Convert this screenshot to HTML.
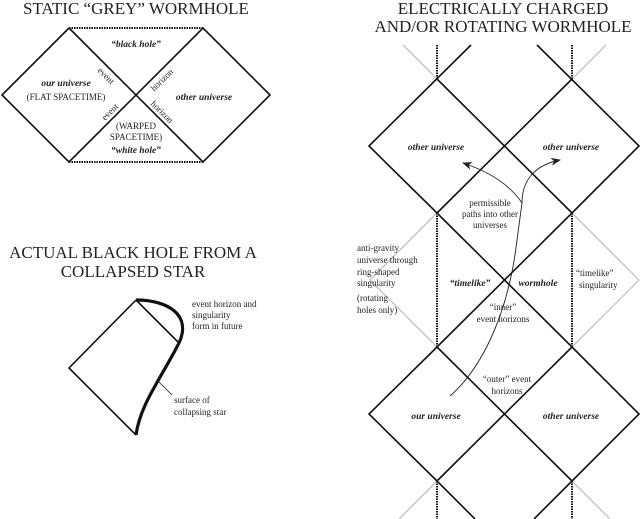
<!DOCTYPE html>
<html><head><meta charset="utf-8"><style>
html,body{margin:0;padding:0;background:#fff}
svg{display:block}
text{font-family:"Liberation Serif","DejaVu Serif",serif;fill:#222}
.t{font-size:17px}
.b{font-size:9.5px;font-weight:bold;font-style:italic}
.n{font-size:9px}
</style></head><body>
<svg width="640" height="519" viewBox="0 0 640 519" xmlns="http://www.w3.org/2000/svg" font-family="Liberation Serif, serif">
<defs><marker id="ar" markerWidth="10" markerHeight="8" refX="9" refY="4" orient="auto" markerUnits="userSpaceOnUse"><path d="M0,0 L10,4 L0,8 L3,4 Z" fill="#222"/></marker></defs>
<!-- titles -->
<text class="t" font-family="Liberation Serif, serif" x="136" y="14" text-anchor="middle">STATIC “GREY” WORMHOLE</text>
<text class="t" font-family="Liberation Serif, serif" x="503" y="14" text-anchor="middle">ELECTRICALLY CHARGED</text>
<text class="t" font-family="Liberation Serif, serif" x="503" y="32" text-anchor="middle">AND/OR ROTATING WORMHOLE</text>
<text class="t" font-family="Liberation Serif, serif" x="133" y="258" text-anchor="middle">ACTUAL BLACK HOLE FROM A</text>
<text class="t" font-family="Liberation Serif, serif" x="133" y="277" text-anchor="middle">COLLAPSED STAR</text>

<!-- static grey wormhole -->
<g stroke="#111" stroke-width="1.6" fill="none">
<path d="M69,28 L2,95 L69,162 L203,28 L270,95 L203,162 L69,28"/>
</g>
<g stroke="#111" stroke-width="2" stroke-dasharray="1.5,1" fill="none">
<path d="M69,28 H203 M69,162 H203"/>
</g>
<text class="b" x="136" y="47" text-anchor="middle">“black hole”</text>
<text class="b" x="66" y="86" text-anchor="middle">our universe</text>
<text class="n" x="66" y="100" text-anchor="middle">(FLAT SPACETIME)</text>
<text class="b" x="204" y="100" text-anchor="middle">other universe</text>
<text class="n" x="136" y="129" text-anchor="middle">(WARPED</text>
<text class="n" x="136" y="140" text-anchor="middle">SPACETIME)</text>
<text class="b" x="136" y="153" text-anchor="middle">“white hole”</text>
<text class="n" x="104" y="78" transform="rotate(45 104 78)" text-anchor="middle">event</text>
<text class="n" x="112" y="114" transform="rotate(-45 112 114)" text-anchor="middle">event</text>
<text class="n" x="164" y="82" transform="rotate(-45 164 82)" text-anchor="middle">horizon</text>
<text class="n" x="160" y="114" transform="rotate(45 160 114)" text-anchor="middle">horizon</text>

<!-- collapsed star -->
<g stroke="#111" fill="none">
<path d="M136,300 L69,368 L136,435" stroke-width="1.6"/>
<path d="M136,300 L179,343" stroke-width="1.6"/>
<path d="M136,300 C168,300 192,315 179,343" stroke-width="3.2"/>
<path d="M179,343 C160,380 140,405 136,435" stroke-width="3.2"/>
<path d="M159,382 L172,395" stroke-width="0.8"/>
</g>
<text class="n" x="192" y="307">event horizon and</text>
<text class="n" x="192" y="318">singularity</text>
<text class="n" x="192" y="329">form in future</text>
<text class="n" x="174" y="403">surface of</text>
<text class="n" x="174" y="415">collapsing star</text>

<!-- right diagram: grey lines -->
<g stroke="#c8c8c8" stroke-width="1.5" fill="none">
<path d="M437,79 L403,45 M572,79 L606,45"/>
<path d="M437,213 L370,280 L437,347 M572,213 L639,280 L572,347"/>
<path d="M437,481 L399,519 M572,481 L610,519"/>
</g>
<!-- dotted verticals -->
<g stroke="#111" stroke-width="2" stroke-dasharray="1.5,1" fill="none">
<path d="M437,45 V79 M572,45 V79 M437,213 V347 M572,213 V347 M437,481 V519 M572,481 V519"/>
</g>
<!-- black lines -->
<g stroke="#111" stroke-width="1.6" fill="none">
<path d="M471,45 L369,146 L437,213 L572,347 L639,414 L572,481 L534,519"/>
<path d="M537,45 L639,146 L572,213 L437,347 L369,414 L437,481 L475,519"/>
<path d="M437,79 L572,213 M572,79 L437,213"/>
<path d="M437,347 L572,481 M572,347 L437,481"/>
</g>
<text class="b" x="436" y="150" text-anchor="middle">other universe</text>
<text class="b" x="571" y="150" text-anchor="middle">other universe</text>
<text class="b" x="436" y="419" text-anchor="middle">our universe</text>
<text class="b" x="571" y="419" text-anchor="middle">other universe</text>
<text class="b" x="470" y="286" text-anchor="middle">“timelike”</text>
<text class="b" x="538" y="286" text-anchor="middle">wormhole</text>
<text class="n" x="490" y="206" text-anchor="middle">permissible</text>
<text class="n" x="490" y="217" text-anchor="middle">paths into other</text>
<text class="n" x="490" y="228" text-anchor="middle">universes</text>
<text class="n" x="357" y="251">anti-gravity</text>
<text class="n" x="357" y="263">universe through</text>
<text class="n" x="357" y="275">ring-shaped</text>
<text class="n" x="357" y="286">singularity</text>
<text class="n" x="357" y="301">(rotating</text>
<text class="n" x="357" y="313">holes only)</text>
<text class="n" x="576" y="276">“timelike”</text>
<text class="n" x="579" y="288">singularity</text>
<text class="n" x="503" y="310" text-anchor="middle">“inner”</text>
<text class="n" x="503" y="322" text-anchor="middle">event horizons</text>
<text class="n" x="507" y="382" text-anchor="middle">“outer” event</text>
<text class="n" x="507" y="394" text-anchor="middle">horizons</text>
<!-- paths -->
<g stroke="#222" stroke-width="0.9" fill="none">
<path d="M450,396 C480,370 505,320 515,255 L522,203"/>
<path d="M522,203 C510,185 490,172 463,163" marker-end="url(#ar)"/>
<path d="M522,203 C522,180 535,165 560,160" marker-end="url(#ar)"/>
</g>
</svg>
</body></html>
